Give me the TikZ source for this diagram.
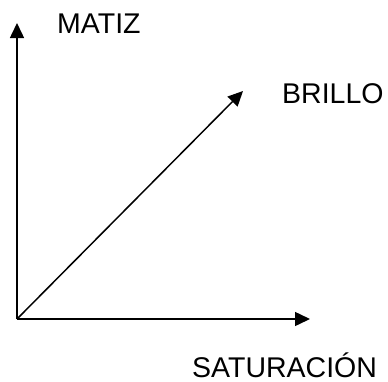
\documentclass[tikz,border=0pt]{standalone}
\usepackage{fontspec}
\setmainfont{Liberation Sans}
\usetikzlibrary{arrows.meta}
\begin{document}
\begin{tikzpicture}[x=1pt,y=-1pt,
  axis/.style={line width=1.5pt,-{Triangle[length=15pt,width=14pt]}},
  lbl/.style={inner sep=0pt,anchor=base west,text depth=0pt,font=\fontsize{28.5}{34}\selectfont}]
\useasboundingbox (0,0) rectangle (388,381);
\coordinate (o) at (17,319);
\coordinate (y) at (17,23);
\coordinate (x) at (310,319);
\coordinate (b) at (243,91);
\draw[axis] (o) -- (y);
\draw[axis] (o) -- (x);
\draw[axis] (o) -- (b);
\node[lbl] (matiz) at (57,33) {MATIZ};
\node[lbl] (brillo) at (282,103) {BRILLO};
\node[lbl] (sat) at (192,377) {SATURACIÓN};
\end{tikzpicture}
\end{document}
